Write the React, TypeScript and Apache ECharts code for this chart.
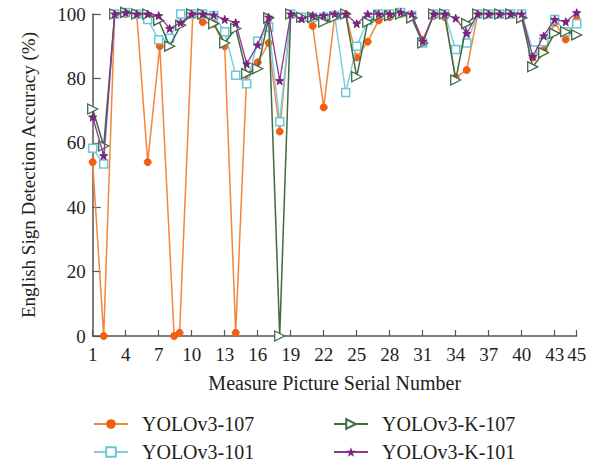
import React, { useEffect, useRef } from "react";
import * as echarts from "echarts";

const serial: number[] = [1,2,3,4,5,6,7,8,9,10,11,12,13,14,15,16,17,18,19,20,21,22,23,24,25,26,27,28,29,30,31,32,33,34,35,36,37,38,39,40,41,42,43,44,45];
const tickValues: number[] = [1,4,7,10,13,16,19,22,25,28,31,34,37,40,43,45];
const yolo107X: number[] = [1,2,3,4,5,6,7.1,8.4,8.9,10.1,11,12,13,14,15,16,17,18,19,20,21,22,23,24,25,26,27,28,29,30,31,32,33,34,35,36,37,38,39,40,41,42,43,44,45];
const yolo107: number[] = [54,0,100,100,100,54,90,0,1,100,97.5,97,90,1,81,85,91,63.5,100,99,96.3,71,99.4,100,86.5,91.4,98,99,100,99.5,92,99.4,99,80.3,82.6,100,100,100,100,99.2,86.5,88.8,97.3,92.1,98.3];
const yolo101: number[] = [58.3,53.4,100,100.5,100,98.3,92,92.5,100,100,100,99.5,94.5,81,78.3,91.5,96,66.5,100,99,99,99,99.5,75.6,90,98,100,100,100.5,99.5,91,100,100,89,91,100,100,100,100,100,88.8,91.4,98.3,94.5,97];
const yoloK107: number[] = [70.5,59,100,100.5,100,100,98,90,96.5,100,100,97,91,95.5,81.5,83,98.8,0,100,99,99,97.5,99,100,80.5,97.5,99.5,99.5,100,98.8,91,100,100,79.5,97,100,100,100,100,98.8,83.6,88,94,94.5,93.5];
const yoloK101: number[] = [68,56,100,100.5,100,100,99.5,95.5,97.3,100,100,99.7,98.3,97.3,84.5,90.4,99,79.3,100,98.5,99.5,99.5,100,100,97,100,100,100,100.5,100,91.5,100,100,98.7,94,100,100,100,100,100,86.8,93.2,98.3,97.6,100.4];
const seriesNames: string[] = ["YOLOv3-107", "YOLOv3-101", "YOLOv3-K-107", "YOLOv3-K-101"];

const FONT = "Liberation Serif";
const TXT = "#231f20";
const AX = "#555555";

export default function App() {
  const ref = useRef<HTMLDivElement>(null);
  useEffect(() => {
    if (!ref.current) return;
    const chart = echarts.init(ref.current, undefined, { renderer: "svg" });
    const pairs = (xs: number[], ys: number[]) => ys.map((v, i) => [xs[i], v]);
    const legendBase = {
      itemWidth: 34,
      itemHeight: 12,
      padding: 0,
      textStyle: { fontFamily: FONT, fontSize: 20, color: TXT, padding: [0, 0, 0, 9] },
      orient: "horizontal" as const,
    };
    chart.setOption({
      animation: false,
      backgroundColor: "#ffffff",
      grid: { left: 92.7, right: 18.3, top: 14, bottom: 130, containLabel: false },
      legend: [
        { ...legendBase, data: [seriesNames[0]], left: 93, top: 414 },
        { ...legendBase, data: [seriesNames[2]], left: 333, top: 414 },
        { ...legendBase, data: [seriesNames[1]], left: 93, top: 442 },
        { ...legendBase, data: [seriesNames[3]], left: 333, top: 442 },
      ],
      xAxis: {
        type: "value",
        min: serial[0],
        max: serial[serial.length - 1],
        name: "Measure Picture Serial Number",
        nameLocation: "middle",
        nameGap: 37,
        nameTextStyle: { fontFamily: FONT, fontSize: 20, color: TXT },
        axisLine: { lineStyle: { color: AX, width: 1.5 } },
        axisTick: { inside: true, length: 6, customValues: tickValues, lineStyle: { color: AX, width: 1.2 } },
        axisLabel: { customValues: tickValues, fontFamily: FONT, fontSize: 19, color: TXT, margin: 9 },
        splitLine: { show: false },
      },
      yAxis: {
        type: "value",
        min: 0,
        max: 100,
        interval: 20,
        name: "English Sign Detection Accuracy (%)",
        nameLocation: "middle",
        nameGap: 55,
        nameTextStyle: { fontFamily: FONT, fontSize: 19, color: TXT },
        axisLine: { show: true, lineStyle: { color: AX, width: 1.5 } },
        axisTick: { show: true, inside: true, length: 8, lineStyle: { color: AX, width: 1.2 } },
        axisLabel: { fontFamily: FONT, fontSize: 19, color: TXT, margin: 7 },
        splitLine: { show: false },
      },
      series: [
        {
          name: seriesNames[0], type: "line", clip: false, z: 2,
          data: pairs(yolo107X, yolo107),
          symbol: "circle", symbolSize: 7,
          lineStyle: { color: "#f5853a", width: 1.5 },
          itemStyle: { color: "#f15f0f", borderColor: "#f15f0f" },
        },
        {
          name: seriesNames[1], type: "line", clip: false, z: 3,
          data: pairs(serial, yolo101),
          symbol: "rect", symbolSize: 8,
          lineStyle: { color: "#7ccfdb", width: 1.5 },
          itemStyle: { color: "#ffffff", borderColor: "#6cc6d6", borderWidth: 1.5 },
        },
        {
          name: seriesNames[2], type: "line", clip: false, z: 4,
          data: pairs(serial, yoloK107),
          symbol: "triangle", symbolRotate: -90, symbolSize: 10,
          lineStyle: { color: "#3f6b44", width: 1.5 },
          itemStyle: { color: "#ffffff", borderColor: "#3f6b44", borderWidth: 1.3 },
        },
        {
          name: seriesNames[3], type: "line", clip: false, z: 5,
          data: pairs(serial, yoloK101),
          symbol: "path://M0,-10 L2.35,-3.24 L9.51,-3.09 L3.8,1.24 L5.88,8.09 L0,4 L-5.88,8.09 L-3.8,1.24 L-9.51,-3.09 L-2.35,-3.24 Z",
          symbolSize: 8,
          lineStyle: { color: "#8a3a8f", width: 1.3 },
          itemStyle: { color: "#7a237f", borderColor: "#7a237f" },
        },
      ],
    });
    return () => chart.dispose();
  }, []);
  return <div ref={ref} style={{ width: 595, height: 466, position: "absolute", left: 0, top: 0 }} />;
}
